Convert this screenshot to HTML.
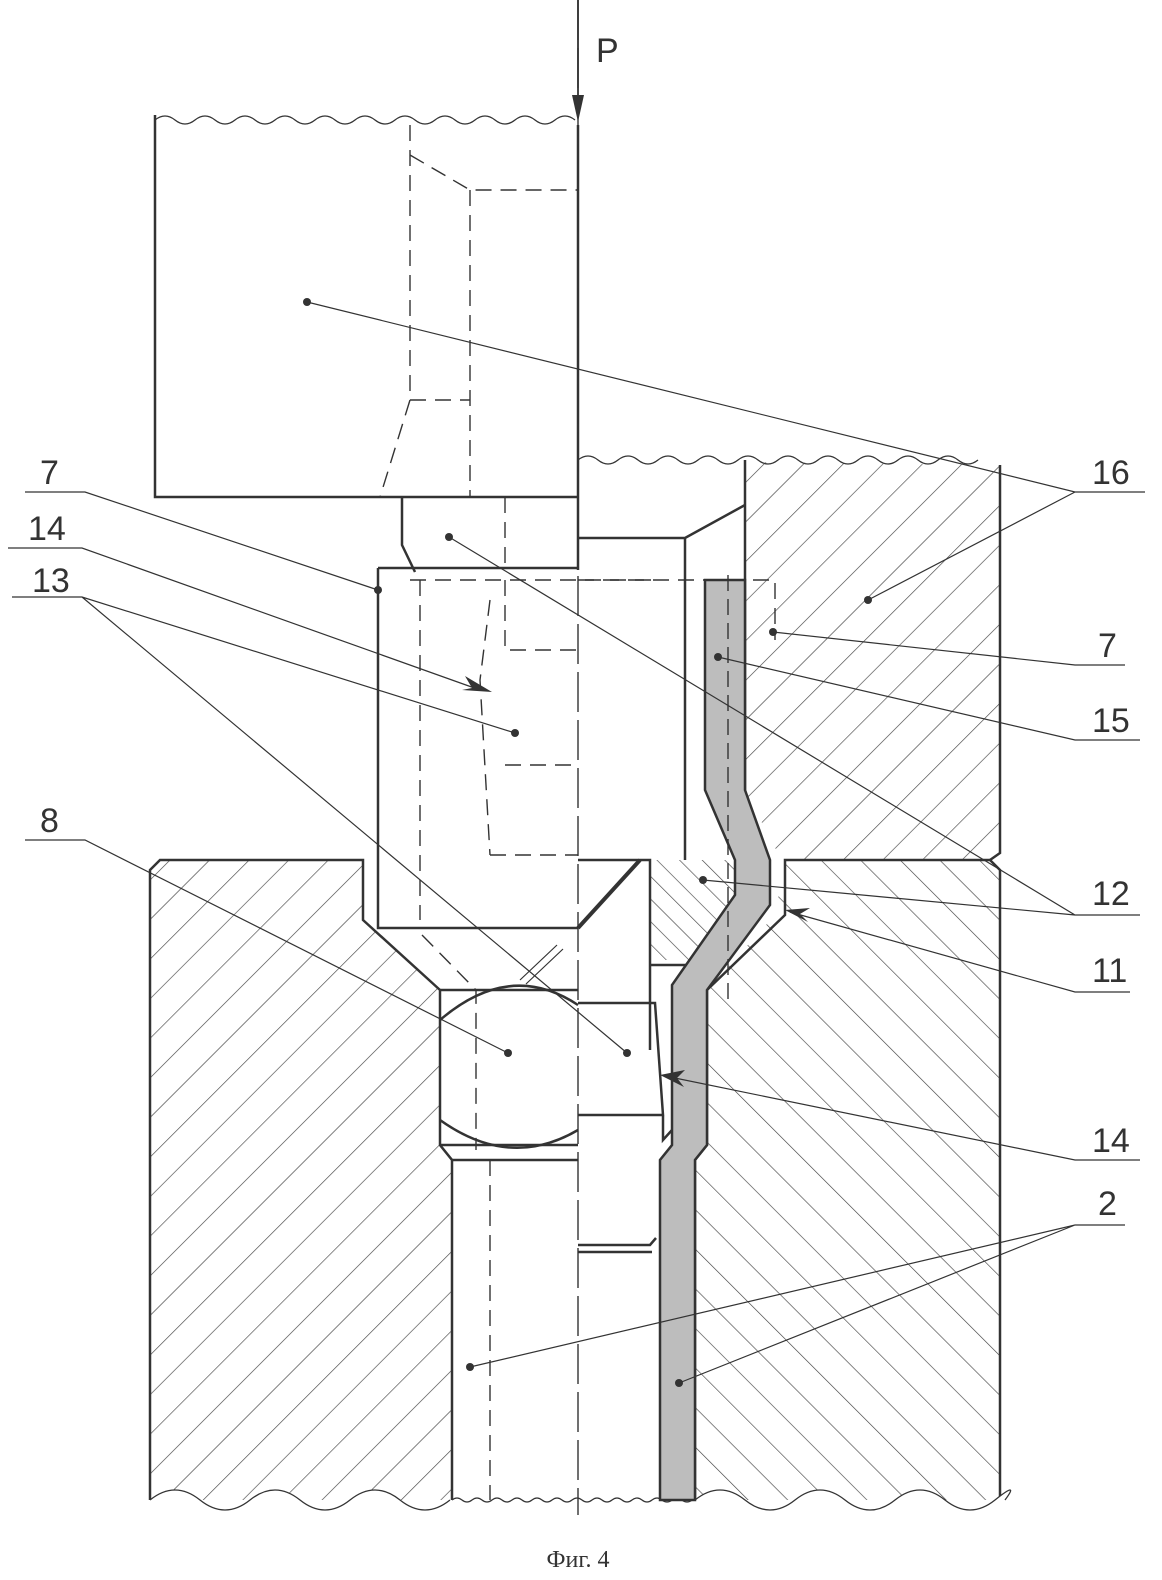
<!DOCTYPE html>
<html><head><meta charset="utf-8"><style>html,body{margin:0;padding:0;background:#fff}svg{display:block}</style></head>
<body>
<svg width="1162" height="1580" viewBox="0 0 1162 1580" xmlns="http://www.w3.org/2000/svg" font-family="Liberation Sans, sans-serif">
<defs>
<pattern id="hA" patternUnits="userSpaceOnUse" width="28" height="28" patternTransform="rotate(45)"><line x1="0" y1="0" x2="0" y2="28" stroke="#444" stroke-width="1.3"/></pattern>
<pattern id="hB" patternUnits="userSpaceOnUse" width="28" height="28" patternTransform="rotate(-45)"><line x1="0" y1="0" x2="0" y2="28" stroke="#444" stroke-width="1.3"/></pattern>
<pattern id="hC" patternUnits="userSpaceOnUse" width="16" height="16" patternTransform="rotate(-45)"><line x1="0" y1="0" x2="0" y2="16" stroke="#444" stroke-width="1.3"/></pattern>
</defs>
<g stroke="#333" fill="none" stroke-width="2.5">
<!-- upper right die 16 -->
<polygon points="745,462 1000,465 1000,853 990,860 785,860 775,848 745,790 745,580" fill="url(#hA)" stroke="none"/>
<path d="M745,460 V860 M1000,465 V853 L990,860"/>
<path d="M578,460 q10,-8 20,0 t20,0 t20,0 t20,0 t20,0 t20,0 t20,0 t20,0 t20,0 t20,0 t20,0 t20,0 t20,0 t20,0 t20,0 t20,0 t20,0 t20,0 t20,0 t20,0" stroke-width="1.3"/>
<path d="M578,538 H685 L745,505 M685,538 V860"/>
<!-- punch -->
<path d="M155,115 V497 H578 M578,125 V497"/>
<path d="M155,120 q10,-8 20,0 t20,0 t20,0 t20,0 t20,0 t20,0 t20,0 t20,0 t20,0 t20,0 t20,0 t20,0 t20,0 t20,0 t20,0 t20,0 t20,0 t20,0 t20,0 t20,0 t20,0" stroke-width="1.3"/>
<g stroke-width="1.4" stroke-dasharray="16,9">
<path d="M410,125 V400 L380,497 M410,155 L470,190 H578 M470,190 V497 M410,400 H470"/>
<path d="M505,497 V570 M410,580 H660 M420,580 V920 M490,600 L480,680 L490,855 M490,855 H578 M505,580 V650 H578 M505,765 H578"/>
<path d="M422,935 L476,990 V1150 M490,1160 V1500 M578,580 H775 V640" />
</g>
<path d="M578,0 V1515" stroke-width="1.4" stroke-dasharray="40,8"/>
<!-- arrow P -->
<path d="M578,0 V110" stroke-width="1.8"/>
<polygon points="572,95 584,95 578,122" fill="#333" stroke="none"/>
<!-- small block -->
<path d="M402,497 V545 L415,572 M578,497 V570"/>
<!-- body 13 -->
<path d="M378,568 H578 M378,568 V928 H578"/>
<!-- lower dies -->
<polygon points="150,870 160,860 363,860 363,920 440,990 440,1145 452,1160 452,1500 150,1500" fill="url(#hA)" stroke="none"/>
<polygon points="785,860 990,860 1000,870 1000,1500 695,1500 695,1160 707,1145 707,990 775,915" fill="url(#hB)" stroke="none"/>
<polygon points="650,860 735,860 735,895 690,960 650,960" fill="url(#hC)" stroke="none"/>
<path d="M150,1500 V870 L160,860 H363 V920 L440,990 V1145 L452,1160 V1500"/>
<path d="M1000,1500 V870 L990,860 H785 V915 L707,990 V1145 L695,1160 V1500"/>
<path d="M150,1500 q25,-20 50,0 t50,0 t50,0 t50,0 t50,0 t50,0 M695,1500 q25,-20 50,0 t50,0 t50,0 t50,0 t50,0 t50,0 t10,0" stroke-width="1.3" fill="#fff"/>
<path d="M452,1500 q5,-4 10,0 t10,0 t10,0 t10,0 t10,0 t10,0 t10,0 t10,0 t10,0 t10,0 t10,0 t10,0 t10,0 t10,0 t10,0 t10,0 t10,0 t10,0 t10,0 t10,0 t10,0 t10,0 t10,0 t10,0" stroke-width="1.2"/>
<path d="M578,860 H650 V1050 M650,965 H700 M440,990 H578 M440,1145 H578 M452,1160 H578"/>
<path d="M578,928 L640,860" stroke-width="4"/>
<path d="M520,980 L557,945 M526,984 L563,949" stroke-width="1.2"/>
<!-- ball -->
<path d="M440,1020 Q510,960 578,1005 M440,1120 Q510,1170 578,1130"/>
<!-- rod 14 -->
<path d="M578,1003 H655 L663,1115 H578 M663,1115 V1140 L672,1130 M578,1245 H650 L656,1238 M578,1252 H652"/>
<!-- strip 15 -->
<path d="M705,580 H745 V790 L770,860 V905 L707,990 V1145 L695,1160 V1500 H660 V1160 L672,1145 V985 L735,895 V860 L705,790 Z" fill="#bdbdbd" stroke-width="2.5"/>
<path d="M728,575 V1000" stroke-width="1.4" stroke-dasharray="16,8"/>
<!-- leaders -->
<g stroke-width="1.2">
<path d="M25,492 H85 L378,590"/>
<path d="M8,548 H82 L480,690"/>
<path d="M12,597 H82 L515,733 M82,597 L627,1053"/>
<path d="M25,840 H85 L508,1053"/>
<path d="M1145,492 H1075 L307,302 M1075,492 L868,600"/>
<path d="M1125,665 H1075 L773,632"/>
<path d="M1140,740 H1075 L718,657"/>
<path d="M1140,915 H1075 L449,537 M1075,915 L703,880"/>
<path d="M1130,992 H1075 L790,912"/>
<path d="M1140,1160 H1075 L670,1077"/>
<path d="M1125,1225 H1075 L470,1367 M1075,1225 L679,1383"/>
</g>
<g fill="#333" stroke="none">
<circle cx="378" cy="590" r="4"/><circle cx="515" cy="733" r="4"/><circle cx="627" cy="1053" r="4"/><circle cx="508" cy="1053" r="4"/><circle cx="307" cy="302" r="4"/><circle cx="868" cy="600" r="4"/><circle cx="773" cy="632" r="4"/><circle cx="718" cy="657" r="4"/><circle cx="449" cy="537" r="4"/><circle cx="703" cy="880" r="4"/><circle cx="470" cy="1367" r="4"/><circle cx="679" cy="1383" r="4"/>
<polygon points="492,692 465,676 472,688 462,690"/>
<polygon points="785,910 810,908 800,914 808,922"/>
<polygon points="660,1075 685,1070 677,1078 684,1087"/>
</g>
</g>
<g font-size="34" fill="#333">
<text x="40" y="484">7</text><text x="28" y="540">14</text><text x="32" y="592">13</text><text x="40" y="832">8</text>
<text x="1092" y="484">16</text><text x="1098" y="657">7</text><text x="1092" y="732">15</text><text x="1092" y="905">12</text><text x="1092" y="982">11</text><text x="1092" y="1152">14</text><text x="1098" y="1215">2</text>
<text x="596" y="62">P</text>
</g>
<text x="578" y="1567" font-size="24" font-family="Liberation Serif, serif" text-anchor="middle" fill="#333">Фиг. 4</text>
</svg>
</body></html>
